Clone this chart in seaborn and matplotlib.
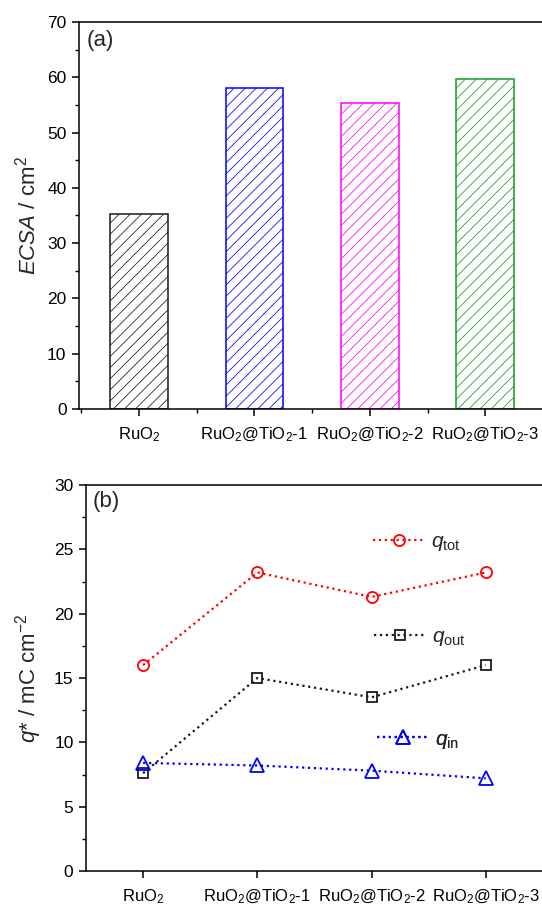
import numpy as np
import pandas as pd
import matplotlib
matplotlib.use("Agg")
import matplotlib.pyplot as plt
from matplotlib.ticker import MultipleLocator, FixedLocator
import seaborn as sns

# ---- data ----
categories = ["RuO$_2$", "RuO$_2$@TiO$_2$-1", "RuO$_2$@TiO$_2$-2", "RuO$_2$@TiO$_2$-3"]
ecsa = [35.3, 58.0, 55.3, 59.7]
bar_colors = ["#1a1a1a", "#0000ff", "#ff00ff", "#129a22"]

q_tot = [16.0, 23.2, 21.3, 23.2]
q_out = [7.6, 15.0, 13.5, 16.0]
q_in = [8.4, 8.2, 7.8, 7.2]

sns.set_theme(style="ticks")
plt.rcParams["font.family"] = ["Liberation Sans", "DejaVu Sans"]
plt.rcParams["mathtext.fontset"] = "custom"
plt.rcParams["mathtext.rm"] = "Liberation Sans"
plt.rcParams["mathtext.it"] = "Liberation Sans:italic"
plt.rcParams["mathtext.bf"] = "Liberation Sans:bold"
plt.rcParams["hatch.linewidth"] = 0.55
plt.rcParams["axes.linewidth"] = 1.1

fig = plt.figure(figsize=(5.42, 9.05), dpi=100)
ax1 = fig.add_axes([79 / 542, 1 - 409 / 905, 464 / 542, 387 / 905])
ax2 = fig.add_axes([86 / 542, 1 - 871 / 905, 457 / 542, 386 / 905])

tick_fs = 12.5
cat_fs = 12
label_fs = 16

# ---- (a) ECSA bars ----
pos = np.arange(len(categories))
df_a = pd.DataFrame({"x": pos, "ecsa": ecsa})
sns.barplot(data=df_a, x="x", y="ecsa", ax=ax1, native_scale=True,
            width=0.5, fill=False, errorbar=None)
for patch, c in zip(ax1.patches, bar_colors):
    patch.set_edgecolor(c)
    patch.set_hatch("///")
    patch.set_linewidth(1.1)
    patch.set_facecolor("none")

ax1.set_xlim(-0.52, 3.5)
ax1.set_ylim(0, 70)
ax1.yaxis.set_major_locator(MultipleLocator(10))
ax1.yaxis.set_minor_locator(MultipleLocator(5))
ax1.xaxis.set_major_locator(FixedLocator(pos))
ax1.xaxis.set_minor_locator(FixedLocator(pos - 0.5))
ax1.set_xticklabels(categories, fontsize=cat_fs)
ax1.set_xlabel("")
ax1.set_ylabel("$ECSA$ / cm$^2$", fontsize=label_fs, labelpad=5)
ax1.text(0.017, 0.98, "(a)", transform=ax1.transAxes, ha="left", va="top", fontsize=16)

# ---- (b) charge curves ----
series = [
    (q_tot, "#ff0000", "o", 8, r"$q_{\rm tot}$"),
    (q_out, "#1a1a1a", "s", 7.5, r"$q_{\rm out}$"),
    (q_in, "#0000ff", "^", 9.5, r"$q_{\rm in}$"),
]
handles = []
for vals, col, mk, ms, lab in series:
    sns.lineplot(x=pos, y=vals, ax=ax2, color=col, linestyle=":", linewidth=1.6,
                 marker=mk, markersize=ms, markerfacecolor="none",
                 markeredgecolor=col, markeredgewidth=1.3, sort=False)
    handles.append((ax2.lines[-1], lab))

ax2.set_xlim(-0.5, 3.5)
ax2.set_ylim(0, 30)
ax2.yaxis.set_major_locator(MultipleLocator(5))
ax2.yaxis.set_minor_locator(MultipleLocator(2.5))
ax2.xaxis.set_major_locator(FixedLocator(pos))
ax2.set_xticklabels(categories, fontsize=cat_fs)
ax2.set_ylabel("$q$* / mC cm$^{-2}$", fontsize=label_fs, labelpad=7)
ax2.text(0.015, 0.985, "(b)", transform=ax2.transAxes, ha="left", va="top", fontsize=16)

anchors = [(0.628, 0.850), (0.630, 0.604), (0.637, 0.339)]
for (line, lab), anc in zip(handles, anchors):
    leg = ax2.legend([line], [lab], loc="center left", bbox_to_anchor=anc,
                     frameon=False, borderpad=0, borderaxespad=0,
                     handlelength=2.5, handletextpad=0.3, fontsize=15)
    ax2.add_artist(leg)

for ax in (ax1, ax2):
    for s in ax.spines.values():
        s.set_color("black")
        s.set_linewidth(1.1)
    ax.tick_params(which="major", direction="out", length=5, width=1.1,
                   colors="black", pad=4)
    ax.tick_params(axis="y", which="major", labelsize=tick_fs)
    ax.tick_params(which="minor", direction="out", length=3, width=1.0, colors="black")
    ax.tick_params(axis="x", which="both", top=False)
    ax.tick_params(axis="y", which="both", right=False)
    ax.tick_params(axis="x", pad=7)

fig.savefig("out.png", dpi=100)
